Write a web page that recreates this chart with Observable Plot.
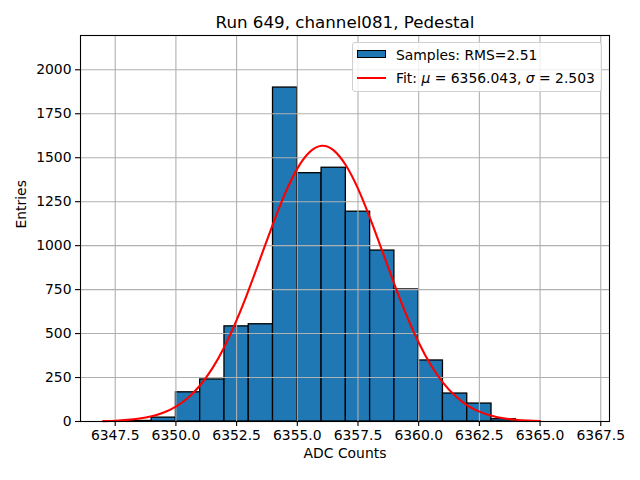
<!DOCTYPE html>
<html><head><meta charset="utf-8">
<script src="https://cdn.jsdelivr.net/npm/d3@7"></script>
<script src="https://cdn.jsdelivr.net/npm/@observablehq/plot@0.6"></script>
<style>
body{margin:0;background:#fff;}
#wrap{position:relative;width:640px;height:480px;font-family:"DejaVu Sans",sans-serif;}
#legend{position:absolute;left:352px;top:42px;width:248px;height:48px;border:1px solid #d0d0d0;border-radius:3px;background:rgba(255,255,255,0.8);font-size:13.9px;color:#000;}
.row{position:absolute;left:43px;white-space:nowrap;line-height:16px;}
#patch{position:absolute;left:4px;top:7px;width:27px;height:6px;background:#1f77b4;border:1px solid #000;}
#lsym{position:absolute;left:4px;top:34px;width:29px;height:2px;background:red;}
</style>
</head><body>
<div id="wrap"></div>
<script>
const title = "Run 649, channel081, Pedestal";
const xLabel = "ADC Counts";
const yLabel = "Entries";
const binLow  = [6348, 6349, 6350, 6351, 6352, 6353, 6354, 6355, 6356, 6357, 6358, 6359, 6360, 6361, 6362, 6363, 6364];
const binHigh = [6349, 6350, 6351, 6352, 6353, 6354, 6355, 6356, 6357, 6358, 6359, 6360, 6361, 6362, 6363, 6364, 6365];
const counts  = [3, 22, 166, 239, 541, 553, 1899, 1412, 1443, 1193, 972, 751, 347, 159, 102, 13, 2];
const fitX = [6347, 6347.5, 6348, 6348.5, 6349, 6349.5, 6350, 6350.5, 6351, 6351.5, 6352, 6352.5, 6353, 6353.5, 6354, 6354.5, 6355, 6355.5, 6356, 6356.5, 6357, 6357.5, 6358, 6358.5, 6359, 6359.5, 6360, 6360.5, 6361, 6361.5, 6362, 6362.5, 6363, 6363.5, 6364, 6364.5, 6365];
const fitY = [2.3, 4.6, 9, 16.7, 29.9, 51.4, 85, 135, 206, 302, 425, 576, 749, 936, 1124, 1297, 1438, 1531, 1568, 1542, 1457, 1324, 1155, 969, 780, 604, 449, 321, 221, 146, 92, 56, 33, 18.5, 10, 5.2, 2.6];
const xTicks = [6347.5, 6350, 6352.5, 6355, 6357.5, 6360, 6362.5, 6365, 6367.5];
const yTicks = [0, 250, 500, 750, 1000, 1250, 1500, 1750, 2000];
const legendSamples = "Samples: RMS=2.51";

const bars = binLow.map((lo, i) => ({lo, hi: binHigh[i], n: counts[i]}));
const fit = fitX.map((x, i) => ({x, y: fitY[i]}));

const svg = Plot.plot({
  width: 640, height: 480,
  marginLeft: 80, marginRight: 31, marginTop: 35, marginBottom: 59,
  style: {fontFamily: "DejaVu Sans", fontSize: "13.9px", color: "black", background: "white"},
  x: {domain: [6346.07, 6367.86]},
  y: {domain: [0, 2195]},
  marks: [
    Plot.rectY(bars, {x1: "lo", x2: "hi", y: "n", fill: "#1f77b4", stroke: "black", strokeWidth: 1.3}),
    Plot.gridX(xTicks, {stroke: "#b0b0b0", strokeOpacity: 1, strokeWidth: 1.1}),
    Plot.gridY(yTicks, {stroke: "#b0b0b0", strokeOpacity: 1, strokeWidth: 1.1}),
    Plot.line(fit, {x: "x", y: "y", stroke: "red", strokeWidth: 2.1, curve: "natural"}),
    Plot.frame({stroke: "black", strokeWidth: 1.1}),
    Plot.axisX(xTicks, {tickSize: 5, tickPadding: 4, tickFormat: d => d.toFixed(1), label: null, strokeWidth: 1.1}),
    Plot.axisY(yTicks, {tickSize: 5, tickPadding: 4, tickFormat: d => String(d), label: null, strokeWidth: 1.1}),
    Plot.text([xLabel], {frameAnchor: "bottom", dy: 36, fontSize: 13.9, fill: "black"}),
    Plot.text([yLabel], {frameAnchor: "left", dx: -59, rotate: -90, fontSize: 13.9, fill: "black"}),
    Plot.text([title], {frameAnchor: "top", dy: -19, fontSize: 16.7, fill: "black"})
  ]
});
const wrap = document.getElementById("wrap");
wrap.appendChild(svg);
const lg = document.createElement("div");
lg.id = "legend";
lg.innerHTML = `<div id="patch"></div><div class="row" style="top:4px">${legendSamples}</div>
<div id="lsym"></div><div class="row" style="top:27px">Fit: <i>μ</i> = 6356.043, <i>σ</i> = 2.503</div>`;
wrap.appendChild(lg);
</script>
</body></html>
